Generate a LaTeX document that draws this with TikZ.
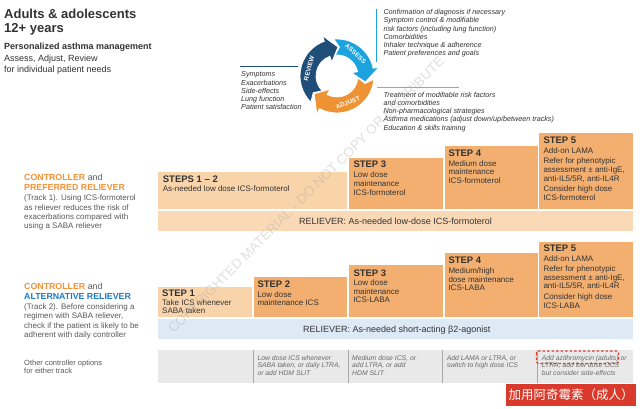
\documentclass[tikz,border=0pt]{standalone}
\usepackage{fontspec}
\setmainfont{Liberation Sans}
\newfontfamily\cjkfont{Noto Sans CJK SC}
\definecolor{txtdark}{HTML}{333333}
\definecolor{txtgray}{HTML}{595959}
\definecolor{opttxt}{HTML}{6A6A6A}
\definecolor{orgtxt}{HTML}{F39237}
\definecolor{bluetxt}{HTML}{1F7BC1}
\definecolor{peachL}{HTML}{F9D4AB}
\definecolor{peachD}{HTML}{F3AF70}
\definecolor{relone}{HTML}{FAD9B6}
\definecolor{reltwo}{HTML}{DEE9F6}
\definecolor{grayrow}{HTML}{E9E9E9}
\definecolor{divgray}{HTML}{A8A8A8}
\definecolor{redlab}{HTML}{D93A2B}
\definecolor{navy}{HTML}{1F4E79}
\definecolor{skyb}{HTML}{1CA3DE}
\definecolor{orng}{HTML}{EE9333}
\newcommand\fs[2]{\fontsize{#1}{#2}\selectfont}
\newcommand\ml[1]{\begin{tabular}[t]{@{}l@{}}#1\end{tabular}}
\tikzset{
  lbl/.style={inner sep=0, anchor=base west, text=txtdark},
  hdr/.style={lbl, font=\fs{9.5}{11}\bfseries},
  body/.style={lbl, font=\fs{8}{8.7}},
  side/.style={lbl, font=\fs{7.2}{8.2}\itshape},
  opt/.style={lbl, font=\fs{6.8}{7.6}\itshape, text=opttxt},
  rel/.style={inner sep=0, anchor=base, font=\fs{9}{10}, text=txtdark},
  ringlbl/.style={inner sep=0, font=\fs{6.3}{7}\bfseries, text=white},
  seg/.style={draw=white, line width=0.8},
  tracklbl/.style={lbl, font=\fs{8.8}{10}\bfseries},
  trackbody/.style={lbl, font=\fs{8}{9.4}, text=txtgray},
}
\begin{document}
\begin{tikzpicture}[x=1pt,y=-1pt]
\useasboundingbox (0,0) rectangle (640,409);
\fill[white] (0,0) rectangle (640,409);

% ---------- title ----------
\node[lbl, font=\fs{13}{14.7}\bfseries] (title) at (4,18.3) {\ml{Adults \& adolescents\\12+ years}};
\node[lbl, font=\fs{9}{11}\bfseries] (pam) at (4,50) {Personalized asthma management};
\node[lbl, font=\fs{9}{10.7}] (aar) at (4,62) {\ml{Assess, Adjust, Review\\for individual patient needs}};

% ---------- cycle ----------
\begin{scope}[shift={(337,76)}, yscale=-1]
  \fill[skyb, seg] (95:37) arc[start angle=95, end angle=12, radius=37] -- (12:43) -- (-12:29) -- (12:15) -- (12:21)
     arc[start angle=12, end angle=95, radius=21] -- (85:29) -- cycle;
  \fill[orng, seg] (-5:37) arc[start angle=-5, end angle=-118, radius=37] -- (-118:43) -- (-142:29) -- (-118:15) -- (-118:21)
     arc[start angle=-118, end angle=-5, radius=21] -- (-15:29) -- cycle;
  \fill[navy, seg] (225:37) arc[start angle=225, end angle=110, radius=37] -- (110:43) -- (88:29) -- (110:15) -- (110:21)
     arc[start angle=110, end angle=225, radius=21] -- (215:29) -- cycle;
  \node[ringlbl, rotate=-42] (lassess) at (50:29) {ASSESS};
  \node[ringlbl, rotate=75] (lreview) at (165:29) {REVIEW};
  \node[ringlbl, rotate=22] (ladjust) at (-68:29) {ADJUST};
\end{scope}

\coordinate (navyL) at (240,66);
\coordinate (navyR) at (298,66);
\draw[navy, line width=0.8] (navyL) -- (navyR);
\coordinate (blueT) at (376,9);
\coordinate (blueB) at (376,62);
\draw[skyb, line width=0.8] (blueT) -- (blueB);
\coordinate (orgL) at (377,87.3);
\coordinate (orgR) at (459,87.3);
\draw[orng, line width=0.8] (orgL) -- (orgR);

\node[side] (revtxt) at (241,77) {\ml{Symptoms\\Exacerbations\\Side-effects\\Lung function\\Patient satisfaction}};
\node[side] (asstxt) at (383.3,14.7) {\ml{Confirmation of diagnosis if necessary\\Symptom control \& modifiable\\risk factors (including lung function)\\Comorbidities\\Inhaler technique \& adherence\\Patient preferences and goals}};
\node[side] (adjtxt) at (383.3,97.3) {\ml{Treatment of modifiable risk factors\\and comorbidities\\Non-pharmacological strategies\\Asthma medications (adjust down/up/between tracks)\\Education \& skills training}};

% ---------- track 1 ----------
\fill[peachL] (157.7,171.7) rectangle (347.3,209.3);
\fill[peachD] (349.3,158.3) rectangle (442.7,209.3);
\fill[peachD] (445,146) rectangle (537.7,209.3);
\fill[peachD] (539.3,133.3) rectangle (633.3,209.3);
\fill[relone] (157.7,211) rectangle (633.3,231);

\node[tracklbl] (t1h) at (24,180.7) {\ml{\textcolor{orgtxt}{CONTROLLER} {\mdseries\color{txtgray}and}\\\textcolor{orgtxt}{PREFERRED RELIEVER}}};
\node[trackbody] (t1b) at (24,200.7) {\ml{(Track 1). Using ICS-formoterol\\as reliever reduces the risk of\\exacerbations compared with\\using a SABA reliever}};

\node[hdr] (s12h) at (162.7,182.7) {STEPS 1 – 2};
\node[body] (s12b) at (162.7,191.7) {As-needed low dose ICS-formoterol};
\node[hdr] (t1s3h) at (353.3,167.7) {STEP 3};
\node[body] (t1s3b) at (353.3,177.7) {\ml{Low dose\\maintenance\\ICS-formoterol}};
\node[hdr] (t1s4h) at (448.3,156.7) {STEP 4};
\node[body] (t1s4b) at (448.3,166.3) {\ml{Medium dose\\maintenance\\ICS-formoterol}};
\node[hdr] (t1s5h) at (543.3,143.3) {STEP 5};
\node[body] (t1s5b) at (543.3,153.3) {\ml{Add-on LAMA\\[2pt]Refer for phenotypic\\assessment ± anti-IgE,\\anti-IL5/5R, anti-IL4R\\[1.3pt]Consider high dose\\ICS-formoterol}};
\node[rel] (rel1) at (395.5,224.3) {RELIEVER: As-needed low-dose ICS-formoterol};

% ---------- track 2 ----------
\fill[peachL] (157.7,287.3) rectangle (251.7,317.3);
\fill[peachD] (253.7,277.3) rectangle (347.3,317.3);
\fill[peachD] (349.3,265) rectangle (442.7,317.3);
\fill[peachD] (445,252.7) rectangle (537.7,317.3);
\fill[peachD] (539.3,241.7) rectangle (633.3,317.3);
\fill[reltwo] (157.7,319.3) rectangle (633.3,339.3);

\node[tracklbl] (t2h) at (24,289.3) {\ml{\textcolor{orgtxt}{CONTROLLER} {\mdseries\color{txtgray}and}\\\textcolor{bluetxt}{ALTERNATIVE RELIEVER}}};
\node[trackbody] (t2b) at (24,309.3) {\ml{(Track 2). Before considering a\\regimen with SABA reliever,\\check if the patient is likely to be\\adherent with daily controller}};

\node[hdr] (t2s1h) at (162,296.7) {STEP 1};
\node[body] (t2s1b) at (162,305) {\ml{Take ICS whenever\\SABA taken}};
\node[hdr] (t2s2h) at (257.3,287.3) {STEP 2};
\node[body] (t2s2b) at (257.3,297) {\ml{Low dose\\maintenance ICS}};
\node[hdr] (t2s3h) at (353.3,276) {STEP 3};
\node[body] (t2s3b) at (353.3,285.3) {\ml{Low dose\\maintenance\\ICS-LABA}};
\node[hdr] (t2s4h) at (448.3,263.3) {STEP 4};
\node[body] (t2s4b) at (448.3,273.3) {\ml{Medium/high\\dose maintenance\\ICS-LABA}};
\node[hdr] (t2s5h) at (543.3,251.7) {STEP 5};
\node[body] (t2s5b) at (543.3,261) {\ml{Add-on LAMA\\[1.6pt]Refer for phenotypic\\assessment ± anti-IgE,\\anti-IL5/5R, anti-IL4R\\[1.9pt]Consider high dose\\ICS-LABA}};
\node[rel] (rel2) at (396.7,332.3) {RELIEVER: As-needed short-acting β2-agonist};

% ---------- other options ----------
\node[lbl, font=\fs{7.5}{8.5}, text=txtgray] (other) at (24,365) {\ml{Other controller options\\for either track}};
\fill[grayrow] (157.7,350) rectangle (633.3,382.7);
\foreach \xx in {253.7,348.3,442.7,537.7} {
  \draw[divgray, line width=0.6] (\xx,350) -- (\xx,382.7);
}
\node[opt] (o2) at (257.3,360) {\ml{Low dose ICS whenever\\SABA taken, or daily LTRA,\\or add HDM SLIT}};
\node[opt] (o3) at (352,360) {\ml{Medium dose ICS, or\\add LTRA, or add\\HDM SLIT}};
\node[opt] (o4) at (446.7,360) {\ml{Add LAMA or LTRA, or\\switch to high dose ICS}};
\node[opt] (o5) at (541.7,360) {\ml{Add azithromycin (adults) or\\LTRA, add low dose OCS\\but consider side-effects}};
\draw[redlab, line width=1.1, dash pattern=on 2.5pt off 2pt, rounded corners=2] (536.5,351) rectangle (618.5,363.5);

\node[fill=redlab, text=white, font=\cjkfont\fs{12.5}{14}, inner sep=0, minimum width=130, minimum height=22, anchor=north west] (redbox) at (506,384) {加用阿奇霉素（成人）};

% ---------- watermark ----------
\node[rotate=45, text=black!35, opacity=0.35, font=\fs{13.5}{15}] (wm) at (306,195) {COPYRIGHTED MATERIAL - DO NOT COPY OR DISTRIBUTE};
\end{tikzpicture}
\end{document}
